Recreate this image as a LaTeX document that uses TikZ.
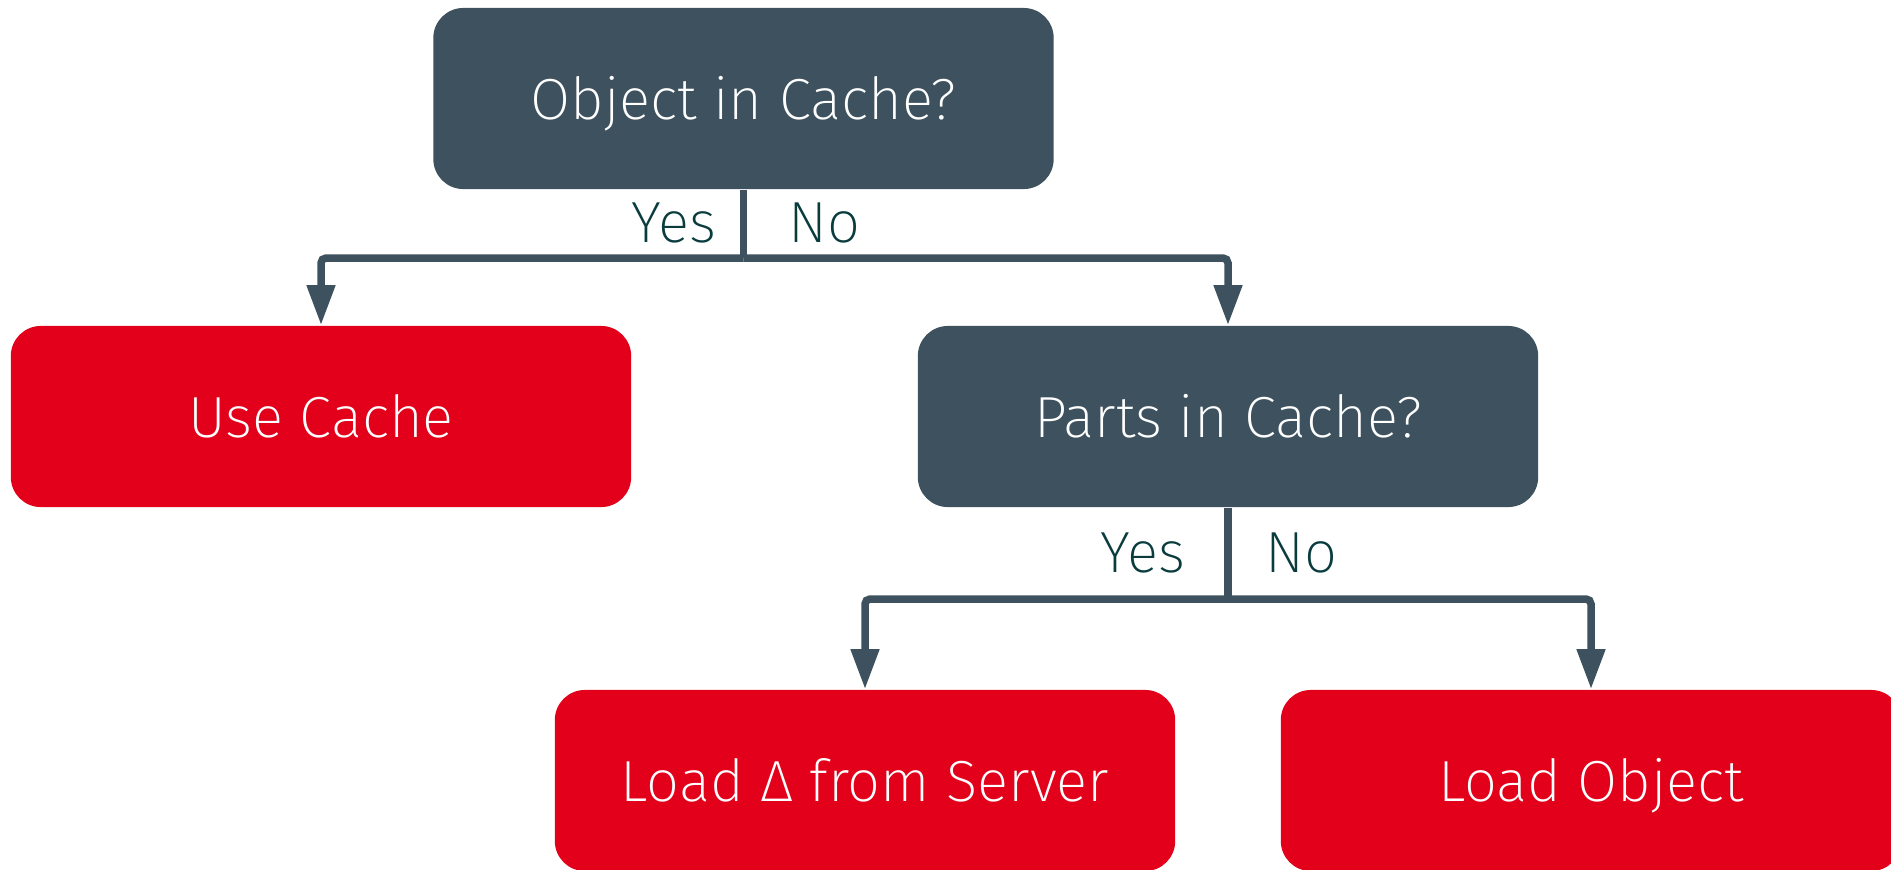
\documentclass[tikz,border=0pt]{standalone}
\usepackage{fontspec}
\setmainfont{Fira Sans}[UprightFont=* ExtraLight]
\usetikzlibrary{arrows.meta}

\definecolor{slate}{HTML}{3D525E}
\definecolor{signal}{HTML}{E2001A}
\definecolor{darkteal}{HTML}{0A3C3E}

\begin{document}
\begin{tikzpicture}[x=0.01cm, y=-0.01cm,
    box/.style={rectangle, rounded corners=0.3cm, minimum width=6.2cm, minimum height=1.81cm,
        inner sep=0pt, text height=12pt, text depth=0pt, text=white,
        font=\fontsize{16.5pt}{20pt}\selectfont},
    question/.style={box, fill=slate},
    action/.style={box, fill=signal},
    lbl/.style={inner sep=0pt, text=darkteal, font=\fontsize{16.5pt}{20pt}\selectfont},
    wire/.style={draw=slate, line width=0.075cm, rounded corners=0.05cm},
    arr/.style={wire, -{Triangle[width=0.27cm, length=0.4cm]}}]
        \useasboundingbox (0,0) rectangle (1891,869);

        % questions
        \node[question] (objq) at (743.5,98.5) {Object in Cache?};
        \node[question] (partsq) at (1228,416.5) {Parts in Cache?};

        % actions
        \node[action] (usecache) at (321,416.5) {Use Cache};
        \node[action] (loaddelta) at (865,780.5) {Load Δ from Server};
        \node[action] (loadobj) at (1591,780.5) {Load Object};

        % first split
        \coordinate (split1) at (objq.south |- 0,258);
        \draw[wire] (objq.south) -- (split1);
        \draw[arr] (split1) -| (usecache.north);
        \draw[arr] (split1) -| (partsq.north);
        \node[lbl, anchor=base east] (yes1) at (717,242) {Yes};
        \node[lbl, anchor=base west] (no1) at (788,242) {No};

        % second split
        \coordinate (split2) at (partsq.south |- 0,599);
        \draw[wire] (partsq.south) -- (split2);
        \draw[arr] (split2) -| (loaddelta.north);
        \draw[arr] (split2) -| (loadobj.north);
        \node[lbl, anchor=base east] (yes2) at (1186,572) {Yes};
        \node[lbl, anchor=base west] (no2) at (1265,572) {No};
\end{tikzpicture}
\end{document}
